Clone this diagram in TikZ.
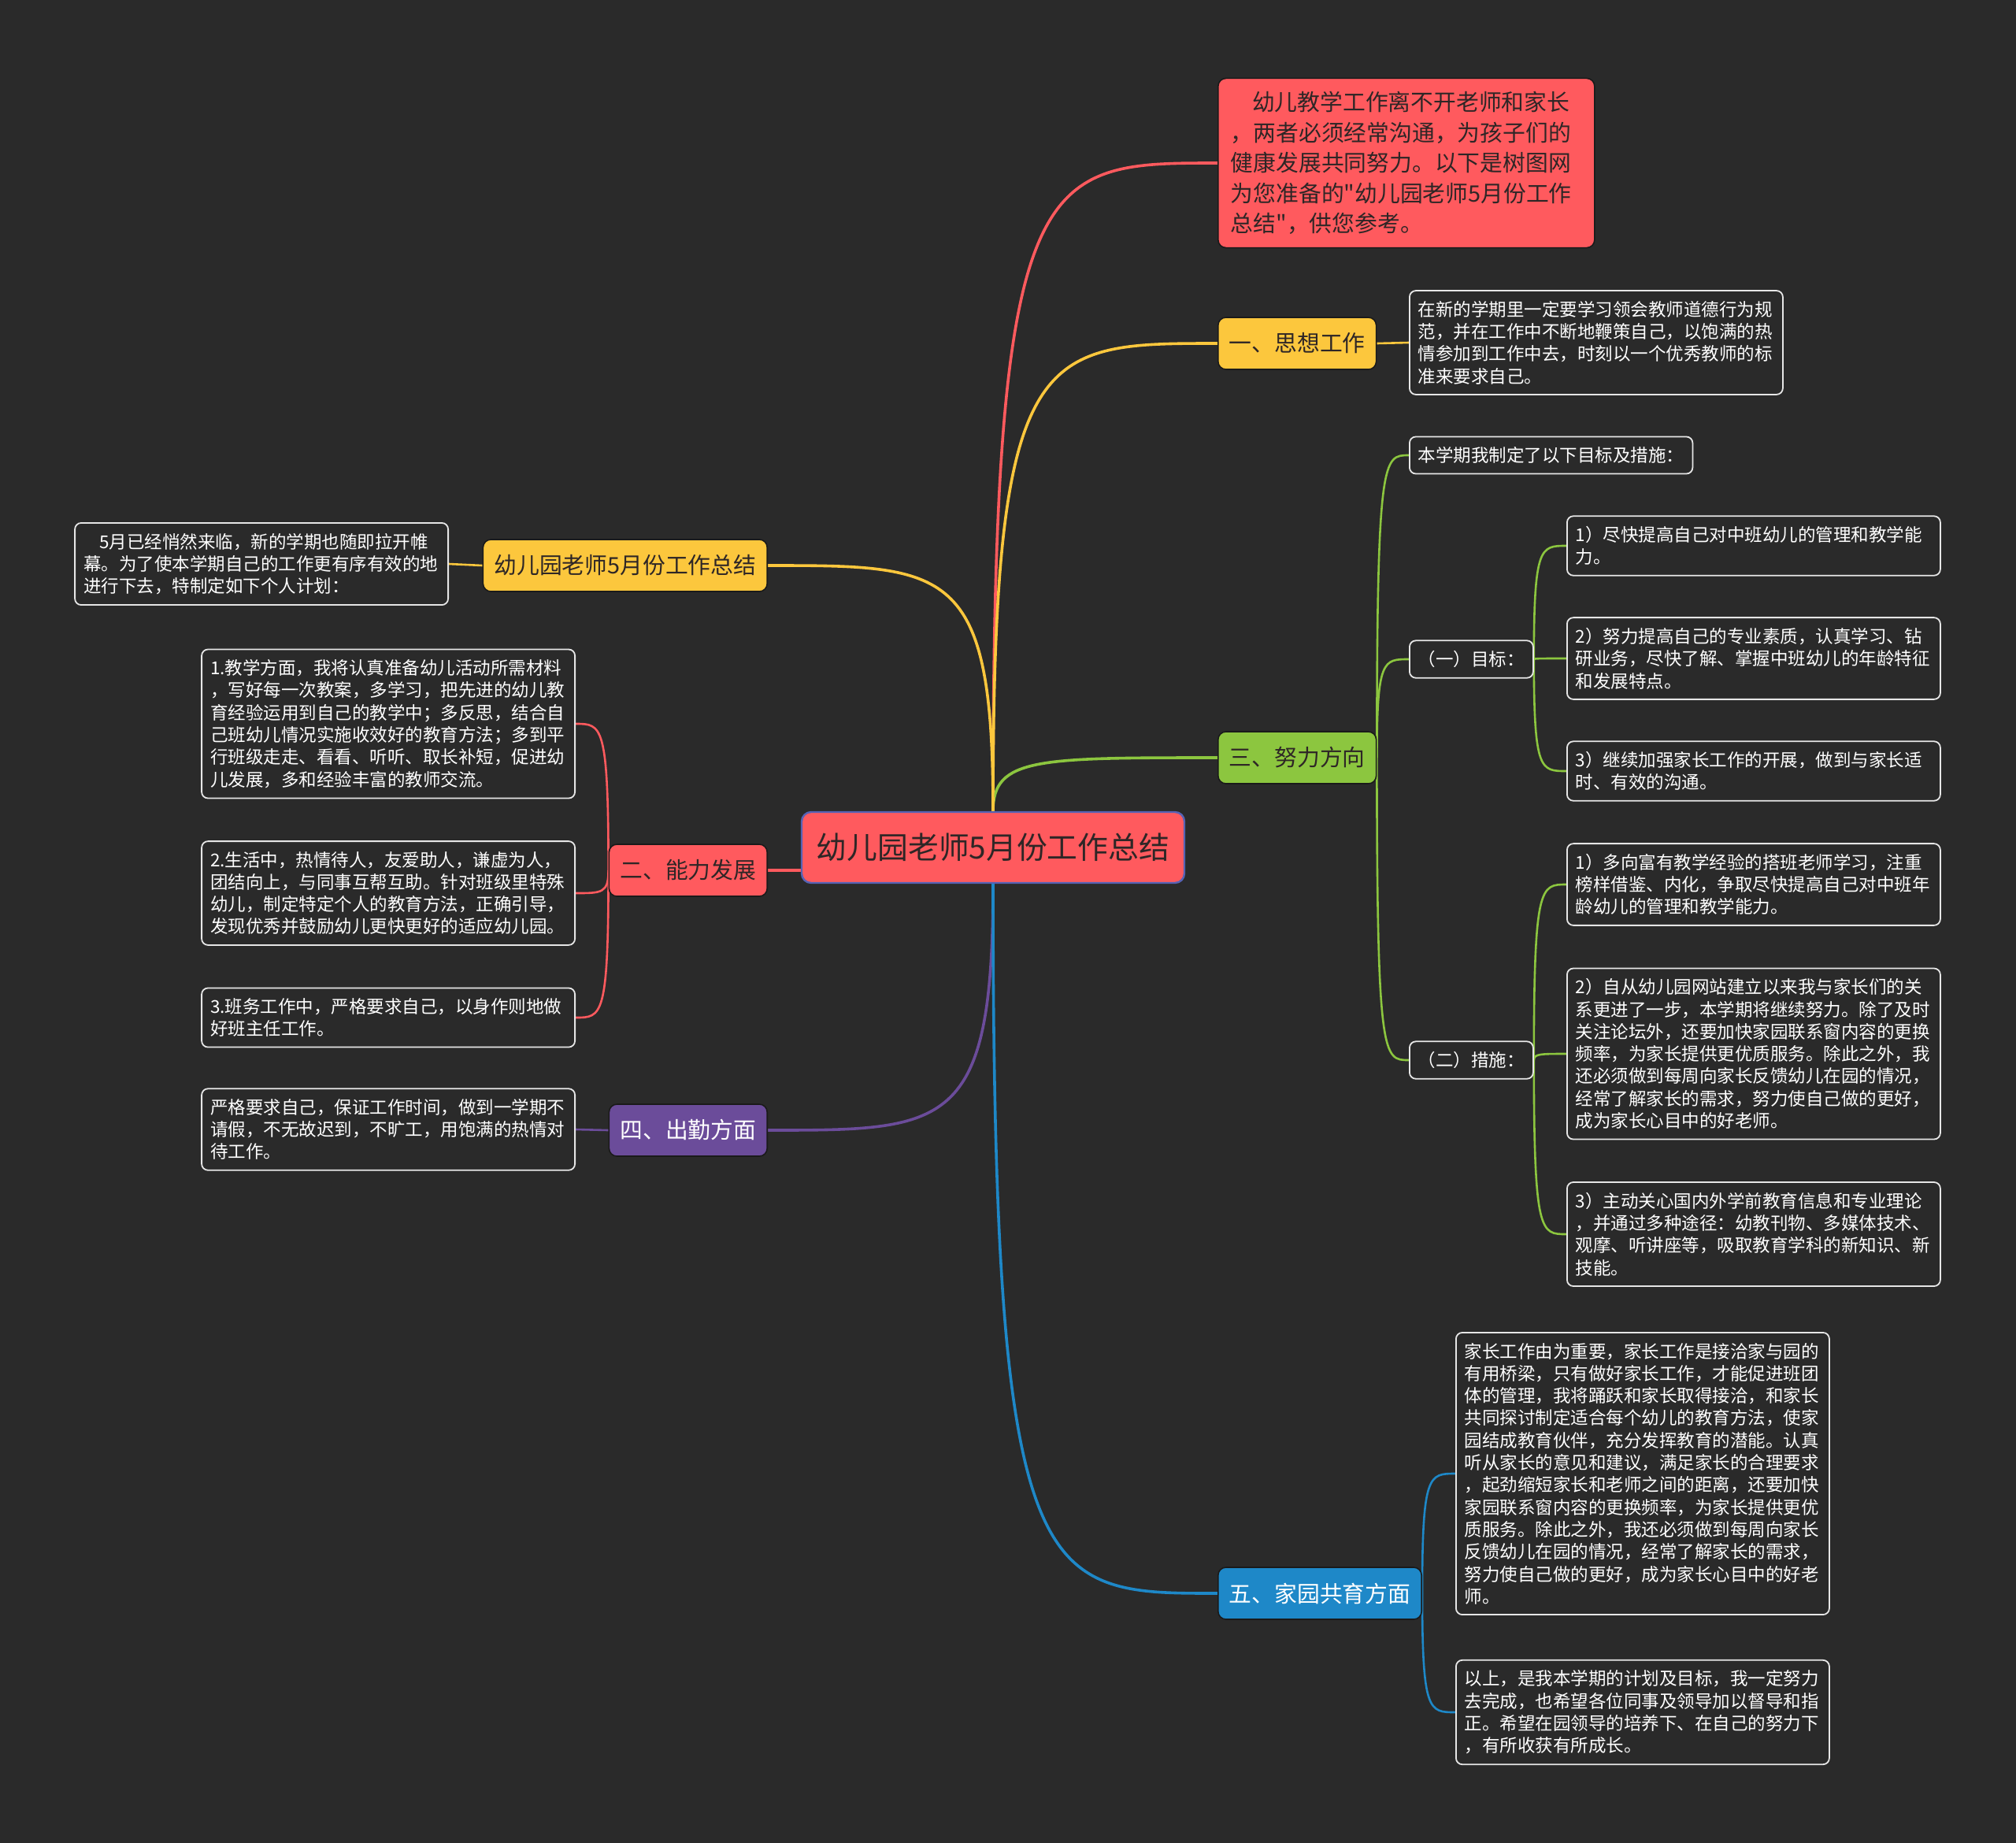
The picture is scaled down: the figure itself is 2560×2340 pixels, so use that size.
\documentclass[tikz,border=0pt]{standalone}
\usepackage{fontspec}
\setmainfont{Noto Sans CJK SC}[Ligatures=TeXOff]
\usetikzlibrary{calc}
\definecolor{bgc}{HTML}{2A2A2A}
\definecolor{cred}{HTML}{FF5A5E}
\definecolor{cyel}{HTML}{FCC73D}
\definecolor{cgrn}{HTML}{8CC63F}
\definecolor{cblu}{HTML}{1E88C8}
\definecolor{cpur}{HTML}{6B4C9A}
\definecolor{ctrline}{HTML}{5662B4}
\definecolor{mainedge}{HTML}{1A1A1A}
\definecolor{leafedge}{HTML}{E6E6E6}
\definecolor{darktext}{HTML}{2E2626}
\pgfdeclarelayer{bgl}
\pgfdeclarelayer{edgel}
\pgfsetlayers{bgl,edgel,main}
\tikzset{
  mm/.style={to path={.. controls (\tikztostart |- \tikztotarget) and ($(\tikztostart |- \tikztotarget)!0.2!(\tikztotarget)$) .. (\tikztotarget) \tikztonodes}},
  mainbox/.style={rounded corners=5pt, draw=mainedge, line width=0.8pt, font=\fontsize{14.4}{19.2}\selectfont, inner xsep=7pt, inner ysep=0pt, minimum height=33pt, text=darktext},
  leaf/.style={rounded corners=4pt, draw=leafedge, line width=0.9pt, fill=bgc, text=white, font=\fontsize{11.25}{14.15}\selectfont, align=left, inner xsep=5.5pt, inner ysep=6.5pt},
  wleaf/.style={leaf, text width=226pt},
  br/.style={line width=1.8pt},
  sbr/.style={line width=1.3pt},
}
\begin{document}
\begin{tikzpicture}[x=0.5pt,y=-0.5pt]
\begin{pgfonlayer}{bgl}
\fill[bgc] (0,0) rectangle (2560,2340);
\end{pgfonlayer}
\useasboundingbox (0,0) rectangle (2560,2340);

% center
\node[rounded corners=6pt, fill=cred, draw=ctrline, line width=1.2pt, text=darktext,
  font=\fontsize{19.4}{23}\selectfont, minimum width=243pt, minimum height=45pt, inner sep=0pt]
  (ctr) at (1261,1076) {幼儿园老师5月份工作总结};

% right main nodes
\node[mainbox, fill=cred, align=left, text width=223pt, inner xsep=8pt, inner ysep=8.5pt, anchor=west]
  (top) at (1546,207) {\hspace*{0.95em}幼儿教学工作离不开老师和家长\\，两者必须经常沟通，为孩子们的\\健康发展共同努力。以下是树图网\\为您准备的"幼儿园老师5月份工作\\总结"，供您参考。};
\node[mainbox, fill=cyel, anchor=west] (s1) at (1546,436) {一、思想工作};
\node[mainbox, fill=cgrn, anchor=west] (s3) at (1546,962) {三、努力方向};
\node[mainbox, fill=cblu, text=white, anchor=west] (s5) at (1546,2023) {五、家园共育方面};

% left main nodes
\node[mainbox, fill=cyel, anchor=east] (sl) at (975,718) {幼儿园老师5月份工作总结};
\node[mainbox, fill=cred, anchor=east] (s2) at (975,1105) {二、能力发展};
\node[mainbox, fill=cpur, text=white, anchor=east] (s4) at (975,1435) {四、出勤方面};

% right leaves
\node[wleaf, anchor=west] (s1a) at (1789,435) {在新的学期里一定要学习领会教师道德行为规\\范，并在工作中不断地鞭策自己，以饱满的热\\情参加到工作中去，时刻以一个优秀教师的标\\准来要求自己。};
\node[leaf, anchor=west] (s3a) at (1789,578) {本学期我制定了以下目标及措施：};
\node[leaf, anchor=west] (s3b) at (1789,837) {（一）目标：};
\node[wleaf, anchor=west] (s3b1) at (1989,693) {1）尽快提高自己对中班幼儿的管理和教学能\\力。};
\node[wleaf, anchor=west] (s3b2) at (1989,836) {2）努力提高自己的专业素质，认真学习、钻\\研业务，尽快了解、掌握中班幼儿的年龄特征\\和发展特点。};
\node[wleaf, anchor=west] (s3b3) at (1989,979) {3）继续加强家长工作的开展，做到与家长适\\时、有效的沟通。};
\node[leaf, anchor=west] (s3c) at (1789,1346) {（二）措施：};
\node[wleaf, anchor=west] (s3c1) at (1989,1123) {1）多向富有教学经验的搭班老师学习，注重\\榜样借鉴、内化，争取尽快提高自己对中班年\\龄幼儿的管理和教学能力。};
\node[wleaf, anchor=west] (s3c2) at (1989,1338) {2）自从幼儿园网站建立以来我与家长们的关\\系更进了一步，本学期将继续努力。除了及时\\关注论坛外，还要加快家园联系窗内容的更换\\频率，为家长提供更优质服务。除此之外，我\\还必须做到每周向家长反馈幼儿在园的情况，\\经常了解家长的需求，努力使自己做的更好，\\成为家长心目中的好老师。};
\node[wleaf, anchor=west] (s3c3) at (1989,1567) {3）主动关心国内外学前教育信息和专业理论\\，并通过多种途径：幼教刊物、多媒体技术、\\观摩、听讲座等，吸取教育学科的新知识、新\\技能。};
\node[wleaf, anchor=west] (s5a) at (1848,1871) {家长工作由为重要，家长工作是接洽家与园的\\有用桥梁，只有做好家长工作，才能促进班团\\体的管理，我将踊跃和家长取得接洽，和家长\\共同探讨制定适合每个幼儿的教育方法，使家\\园结成教育伙伴，充分发挥教育的潜能。认真\\听从家长的意见和建议，满足家长的合理要求\\，起劲缩短家长和老师之间的距离，还要加快\\家园联系窗内容的更换频率，为家长提供更优\\质服务。除此之外，我还必须做到每周向家长\\反馈幼儿在园的情况，经常了解家长的需求，\\努力使自己做的更好，成为家长心目中的好老\\师。};
\node[wleaf, anchor=west] (s5b) at (1848,2174) {以上，是我本学期的计划及目标，我一定努力\\去完成，也希望各位同事及领导加以督导和指\\正。希望在园领导的培养下、在自己的努力下\\，有所收获有所成长。};

% left leaves
\node[wleaf, anchor=east] (sla) at (570,716) {\hspace*{0.9em}5月已经悄然来临，新的学期也随即拉开帷\\幕。为了使本学期自己的工作更有序有效的地\\进行下去，特制定如下个人计划：};
\node[wleaf, anchor=east] (s2a) at (731,919) {1.教学方面，我将认真准备幼儿活动所需材料\\，写好每一次教案，多学习，把先进的幼儿教\\育经验运用到自己的教学中；多反思，结合自\\己班幼儿情况实施收效好的教育方法；多到平\\行班级走走、看看、听听、取长补短，促进幼\\儿发展，多和经验丰富的教师交流。};
\node[wleaf, anchor=east] (s2b) at (731,1134) {2.生活中，热情待人，友爱助人，谦虚为人，\\团结向上，与同事互帮互助。针对班级里特殊\\幼儿，制定特定个人的教育方法，正确引导，\\发现优秀并鼓励幼儿更快更好的适应幼儿园。};
\node[wleaf, anchor=east] (s2c) at (731,1292) {3.班务工作中，严格要求自己，以身作则地做\\好班主任工作。};
\node[wleaf, anchor=east] (s4a) at (731,1434) {严格要求自己，保证工作时间，做到一学期不\\请假，不无故迟到，不旷工，用饱满的热情对\\待工作。};

% edges
\begin{pgfonlayer}{edgel}
\draw[br, cred] (ctr.north) to[mm] (top.west);
\draw[br, cyel] (ctr.north) to[mm] (s1.west);
\draw[br, cgrn] (ctr.north) to[mm] (s3.west);
\draw[br, cyel] (ctr.north) to[mm] (sl.east);
\draw[br, cred] (s2.east) -- (s2.east -| ctr.west);
\draw[br, cpur] (ctr.south) to[mm] (s4.east);
\draw[br, cblu] (ctr.south) to[mm] (s5.west);

\draw[sbr, cyel] (s1.east) -- (s1a.west);
\draw[sbr, cyel] (sl.west) -- (sla.east);
\draw[sbr, cpur] (s4.west) -- (s4a.east);

\draw[sbr, cred] (s2.west) to[mm] (s2a.east);
\draw[sbr, cred] (s2.west) to[mm] (s2b.east);
\draw[sbr, cred] (s2.west) to[mm] (s2c.east);

\draw[sbr, cgrn] (s3.east) to[mm] (s3a.west);
\draw[sbr, cgrn] (s3.east) to[mm] (s3b.west);
\draw[sbr, cgrn] (s3.east) to[mm] (s3c.west);
\draw[sbr, cgrn] (s3b.east) to[mm] (s3b1.west);
\draw[sbr, cgrn] (s3b.east) to[mm] (s3b2.west);
\draw[sbr, cgrn] (s3b.east) to[mm] (s3b3.west);
\draw[sbr, cgrn] (s3c.east) to[mm] (s3c1.west);
\draw[sbr, cgrn] (s3c.east) to[mm] (s3c2.west);
\draw[sbr, cgrn] (s3c.east) to[mm] (s3c3.west);

\draw[sbr, cblu] (s5.east) to[mm] (s5a.west);
\draw[sbr, cblu] (s5.east) to[mm] (s5b.west);
\end{pgfonlayer}
\end{tikzpicture}
\end{document}
